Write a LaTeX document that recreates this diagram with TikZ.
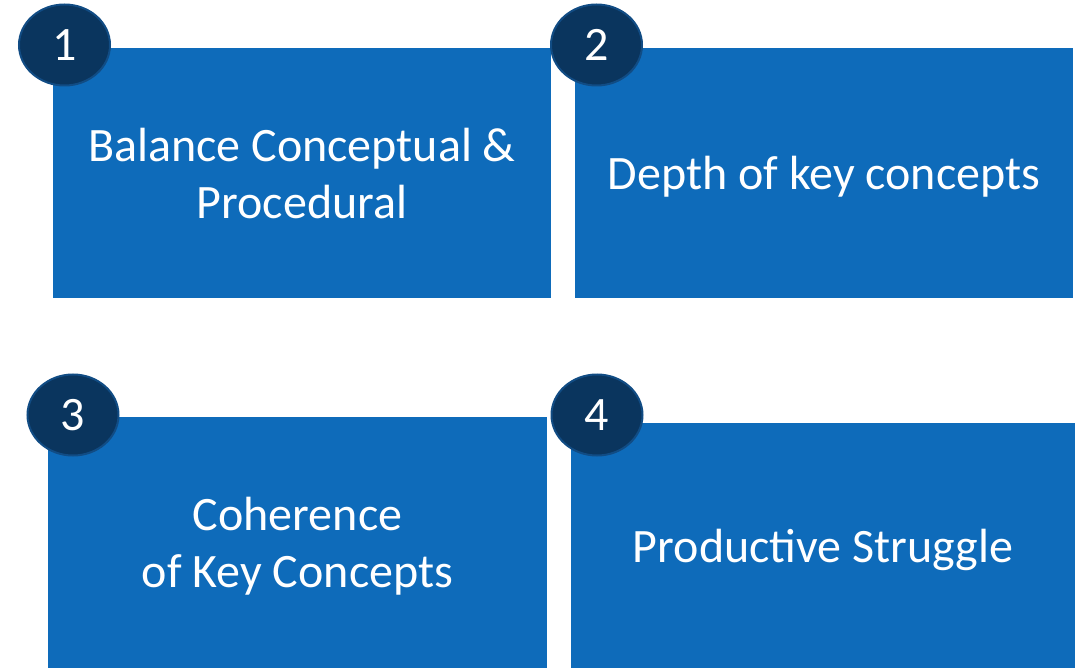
\documentclass[tikz,border=0pt]{standalone}
\usepackage{fontspec}
\setmainfont{Carlito}
\usetikzlibrary{shapes.geometric}
\definecolor{boxblue}{HTML}{0E6BBA}
\definecolor{navy}{HTML}{0A355E}
\definecolor{navyedge}{HTML}{114C84}
\tikzset{
  card/.style={rectangle, fill=boxblue, text=white, align=center, inner sep=0pt,
    text depth=0pt, font=\fontsize{48}{57}\selectfont},
  badge/.style={ellipse, fill=navy, draw=navyedge, line width=2pt, text=white,
    inner sep=0pt, minimum width=91pt, minimum height=81pt,
    font=\fontsize{48}{50}\selectfont}
}
\begin{document}
\begin{tikzpicture}[x=1pt,y=-1pt]
  \useasboundingbox (0,0) rectangle (1084,668);
  \node[card, minimum width=498pt, minimum height=250pt] (c1) at (302,173)
    {Balance Conceptual \&\\Procedural};
  \node[card, minimum width=498pt, minimum height=250pt] (c2) at (824,173)
    {Depth of key concepts};
  \node[card, minimum width=499pt, minimum height=251pt] (c3) at (297.5,542.5)
    {Coherence\\of Key Concepts};
  \node[card, minimum width=504pt, minimum height=245pt] (c4) at (823,545.5)
    {Productive Struggle};
  \node[badge] (b1) at (64.5,45) {1};
  \node[badge] (b2) at (596.5,45) {2};
  \node[badge] (b3) at (73,415) {3};
  \node[badge] (b4) at (597,415) {4};
\end{tikzpicture}
\end{document}
